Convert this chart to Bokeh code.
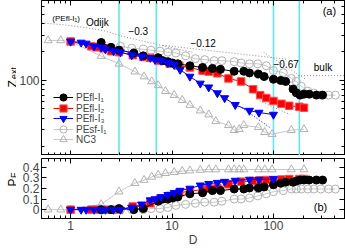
from math import pi
from bokeh.plotting import figure
from bokeh.layouts import column, row
from bokeh.core.properties import value
from bokeh.models import (Range1d, LogAxis, LinearAxis, FixedTicker, Span, Label,
                          Legend, LegendItem, CustomJSTickFormatter)
from bokeh.embed import file_html
from bokeh.resources import INLINE

FONT = "Liberation Sans"

# ---------------- data ----------------
# PEfl-I1 (black filled circles)
d_i1 = [2, 2.5, 3, 4.2, 5.2, 7.3, 8.1, 9.1, 10.1, 11.4, 15, 20, 25, 30, 41, 51, 58, 71, 81,
        100, 118, 132, 156, 168, 183, 200, 225, 265, 305]
z_i1 = [252, 224, 209, 195, 182, 174, 162, 158, 153, 150, 143, 137, 134, 131, 125, 125, 120, 117, 110,
        103, 100, 97.7, 81, 74, 70, 71.7, 71.7, 70, 70]
p_i1 = [0, 0, 0.01, 0, 0.01, 0.08, 0.10, 0.10, 0.11, 0.12, 0.15, 0.16, 0.18, 0.18, 0.195, 0.195, 0.205, 0.205, 0.215,
        0.235, 0.25, 0.26, 0.26, 0.27, 0.28, 0.28, 0.28, 0.28, 0.28]

# PEfl-I2 (red squares)
d_i2 = [1, 1.6, 1.8, 2.1, 2.5, 3, 4.1, 5.2, 6.1, 7.6, 9.5, 11.8, 15, 20, 23, 28, 36, 48, 63, 74, 85,
        100, 120, 143, 180, 200]
z_i2 = [258, 230, 224, 219, 204, 199, 185, 177, 173, 162, 150, 143, 137, 127, 124, 119, 105, 97.7, 80.8, 70, 65.2,
        60.7, 56.6, 54, 52.7, 51.5]
p_i2 = [0, 0, 0, 0, 0, 0, 0.03, 0.03, 0.06, 0.10, 0.13, 0.16, 0.175, 0.19, 0.20, 0.205, 0.24, 0.265, 0.27, 0.275, 0.28,
        0.28, 0.285, 0.29, 0.29, 0.29]

# PEfl-I3 (blue down triangles)
d_i3 = [1, 1.27, 1.42, 1.7, 2.0, 2.2, 2.65, 3.1, 4.0, 5.0, 6.1, 6.8, 7.8, 9.1, 10.5, 12, 15, 19, 23, 28, 33, 42,
        58, 72, 100]
z_i3 = [258, 252, 246, 230, 224, 214, 204, 199, 185, 180, 174, 165, 162, 153, 146, 130, 110, 93, 84.7, 73.5, 65.2,
        55.2, 48, 45.8, 43.6]
p_i3 = [0, 0, 0, 0, 0, 0, 0, 0, 0.02, 0.05, 0.09, 0.10, 0.12, 0.14, 0.16, 0.18, 0.20, 0.23, 0.245, 0.255, 0.265,
        0.275, 0.285, 0.285, 0.29]

# PEsf-I1 (grey open circles)
d_sf = [3.1, 4, 5.2, 6.2, 7.6, 9.1, 10.9, 13.6, 17, 21, 26, 31, 41, 48, 58, 70, 85, 100, 125, 150, 168, 188,
        218, 250, 293, 350, 408]
z_sf = [230, 219, 214, 209, 204, 199, 195, 182, 170, 166, 162, 162, 158, 153, 150, 150, 143, 127, 121, 105, 97.7,
        86.7, 77, 73.5, 70, 70, 70]
p_sf = [0, 0, 0, 0.01, 0.01, 0.02, 0.04, 0.05, 0.06, 0.07, 0.07, 0.08, 0.10, 0.10, 0.11, 0.13, 0.15, 0.17, 0.18,
        0.195, 0.195, 0.195, 0.195, 0.195, 0.195, 0.195, 0.195]

# NC3 (grey open triangles)
d_nc = [0.6, 0.8, 1.0, 2, 3, 4.3, 5.3, 6.3, 7.3, 8.6, 10.5, 12.6, 15, 19, 23, 27, 36, 41, 46, 51, 71, 82, 97,
        150, 200]
z_nc = [265, 265, 258, 181, 150, 124, 110, 97.7, 88.8, 77, 70, 62, 55, 48, 43.6, 37, 33.6, 29.8, 30.5, 33.6, 32,
        28.4, 27.1, 29.8, 30.5]
p_nc = [0, 0, 0, 0.05, 0.17, 0.25, 0.28, 0.31, 0.33, 0.345, 0.355, 0.365, 0.37, 0.375, 0.38, 0.38, 0.38, 0.38,
        0.38, 0.38, 0.38, 0.38, 0.38, 0.38, 0.38]

# guide lines (top panel)
odijk_D = [0.516, 0.864, 1.45, 2.12, 3.32, 6.5, 11.4, 16.0]
odijk_Z = [406, 387, 360, 336, 291, 246, 214, 199]
fit012_D = [8.13, 134]
fit012_Z = [235, 168]
fit067_D = [80, 209]
fit067_Z = [199, 102.4]
fitlow_D = [73, 146]
fitlow_Z = [60.7, 43.6]
fitblue_D = [48.8, 91.4]
fitblue_Z = [51.5, 32.0]
bulk_D = [175, 502]
bulk_Z = [112.6, 112.6]

crossover_D = [3, 7, 100, 180]

x_major = [1, 10, 100]
x_minor = [0.6, 0.7, 0.8, 0.9, 2, 3, 4, 5, 6, 7, 8, 9, 20, 30, 40, 50, 60, 70, 80, 90, 200, 300, 400, 500]
z_major = [100]
z_minor = [20, 30, 40, 50, 60, 70, 80, 90, 200, 300, 400, 500, 600]
p_major = [0, 0.1, 0.2, 0.3, 0.4]

# ---------------- layout ----------------
LW = 16          # strip holding the rotated axis titles
W = 345 - LW
LB = 22
RB = 1
H1 = 155
H2 = 94

BLACK = "#000000"
RED = "#ff0000"
BLUE = "#0000ff"
GREY = "#b2b2b2"
GREYL = "#c8c8c8"
CYAN = "#5ceaf0"
DOT = "#8c8c8c"

xr = Range1d(0.516, 502)
fmt = CustomJSTickFormatter(code="return tick.toString();")
nofmt = CustomJSTickFormatter(code="return '';")


def style_axis(ax, labels=True):
    ax.major_tick_in = 5
    ax.major_tick_out = 0
    ax.minor_tick_in = 3
    ax.minor_tick_out = 0
    ax.axis_line_color = BLACK
    ax.major_tick_line_color = BLACK
    ax.minor_tick_line_color = BLACK
    ax.major_label_text_font = FONT
    if labels:
        ax.major_label_text_font_size = "12px"
        ax.major_label_standoff = 2
        ax.formatter = fmt
    else:
        ax.major_label_text_font_size = "1px"
        ax.major_label_standoff = 0
        ax.formatter = nofmt


def base_fig(height, y_type, y_range, top):
    p = figure(width=W, height=height, x_axis_type="log", y_axis_type=y_type,
               x_range=xr, y_range=y_range, output_backend="svg", toolbar_location=None,
               min_border_left=LB, min_border_right=RB, min_border_top=top, min_border_bottom=0)
    p.grid.visible = False
    p.outline_line_color = BLACK
    p.background_fill_color = "white"
    return p


# ---------- top panel ----------
p1 = base_fig(H1, "log", Range1d(16.1, 700), 0)
p1.xaxis[0].ticker = FixedTicker(ticks=x_major, minor_ticks=x_minor)
style_axis(p1.xaxis[0], labels=False)
p1.yaxis[0].ticker = FixedTicker(ticks=z_major, minor_ticks=z_minor)
style_axis(p1.yaxis[0], labels=True)
ax = LogAxis(ticker=FixedTicker(ticks=x_major, minor_ticks=x_minor))
style_axis(ax, labels=False)
p1.add_layout(ax, "above")
ax = LogAxis(ticker=FixedTicker(ticks=z_major, minor_ticks=z_minor))
style_axis(ax, labels=False)
p1.add_layout(ax, "right")

for d in crossover_D:
    p1.add_layout(Span(location=d, dimension="height", line_color=CYAN, line_width=1.6, level="underlay"))

for dd, zz, col in [(odijk_D, odijk_Z, DOT), (fit012_D, fit012_Z, DOT), (fit067_D, fit067_Z, DOT),
                    (fitlow_D, fitlow_Z, DOT), (bulk_D, bulk_Z, DOT), (fitblue_D, fitblue_Z, BLUE)]:
    p1.line(dd, zz, line_color=col, line_width=1, line_dash="1 2")

series = [
    ("PEsf-I₁", d_sf, z_sf, p_sf, "circle", "white", GREY, GREYL, 8),
    ("NC3", d_nc, z_nc, p_nc, "triangle", "white", GREY, GREYL, 8),
    ("PEfl-I₂", d_i2, z_i2, p_i2, "square", RED, "#ff5050", RED, 7.5),
    ("PEfl-I₁", d_i1, z_i1, p_i1, "circle", BLACK, BLACK, BLACK, 8),
    ("PEfl-I₃", d_i3, z_i3, p_i3, "inverted_triangle", BLUE, BLUE, BLUE, 8),
]

rend = {}
for name, dd, zz, pp, mk, fc, lc, linec, sz in series:
    fa = 0 if fc == "white" else 1
    l = p1.line(dd, zz, line_color=linec, line_width=1)
    s = p1.scatter(dd, zz, marker=mk, size=sz, fill_color=fc, fill_alpha=fa, line_color=lc, line_width=1)
    rend[name] = [l, s]

leg_style = dict(orientation="vertical", background_fill_alpha=0, border_line_alpha=0, padding=0, margin=0,
                 spacing=3, glyph_width=20, glyph_height=18, label_height=18, label_standoff=3,
                 label_text_font=FONT, label_text_font_size="10px", label_text_baseline="middle")
# two interleaved legends give a compact row pitch with full-size markers
legA = Legend(items=[LegendItem(label=n, renderers=rend[n]) for n in ["PEfl-I₁", "PEfl-I₃", "NC3"]],
              location=(12, 7), **leg_style)
legB = Legend(items=[LegendItem(label=n, renderers=rend[n]) for n in ["PEfl-I₂", "PEsf-I₁"]],
              location=(12, 17), **leg_style)
p1.add_layout(legA)
p1.add_layout(legB)

txt = dict(text_font=FONT, text_baseline="middle", text_align="left", text_color=BLACK)
p1.add_layout(Label(x=0.66, y=457, text="(PEfl-I₁)", text_font_size="8px", **txt))
p1.add_layout(Label(x=1.415, y=410, text="Odijk", text_font_size="10px", **txt))
p1.add_layout(Label(x=3.71, y=332, text="−0.3", text_font_size="10px", **txt))
p1.add_layout(Label(x=15.2, y=249, text="−0.12", text_font_size="10px", **txt))
p1.add_layout(Label(x=100, y=149.6, text="−0.67", text_font_size="10px", **txt))
p1.add_layout(Label(x=250, y=137.8, text="bulk", text_font_size="10px", **txt))
p1.add_layout(Label(x=306, y=540, text="(a)", text_font_size="11px", **txt))

# ---------- bottom panel ----------
p2 = base_fig(H2, "linear", Range1d(-0.084, 0.484), 3)
p2.xaxis[0].ticker = FixedTicker(ticks=x_major, minor_ticks=x_minor)
style_axis(p2.xaxis[0], labels=True)
p2.xaxis[0].axis_label = "D"
p2.xaxis[0].axis_label_text_font = FONT
p2.xaxis[0].axis_label_text_font_size = "12px"
p2.xaxis[0].axis_label_text_font_style = "normal"
p2.xaxis[0].axis_label_standoff = 0
p2.yaxis[0].ticker = FixedTicker(ticks=p_major, minor_ticks=[])
style_axis(p2.yaxis[0], labels=True)
ax = LogAxis(ticker=FixedTicker(ticks=x_major, minor_ticks=x_minor))
style_axis(ax, labels=False)
p2.add_layout(ax, "above")
ax = LinearAxis(ticker=FixedTicker(ticks=p_major, minor_ticks=[]))
style_axis(ax, labels=False)
p2.add_layout(ax, "right")

for name, dd, zz, pp, mk, fc, lc, linec, sz in series:
    fa = 0 if fc == "white" else 1
    p2.line(dd, pp, line_color=linec, line_width=1)
    p2.scatter(dd, pp, marker=mk, size=sz, fill_color=fc, fill_alpha=fa, line_color=lc, line_width=1)

p2.add_layout(Label(x=250, y=0.022, text="(b)", text_font_size="11px", **txt))

# ---------- strip with the rotated axis titles (Z_ext, P_F) ----------
HT = H1 + H2
pt = figure(width=LW, height=HT, x_range=Range1d(0, LW), y_range=Range1d(0, HT),
            x_axis_type=None, y_axis_type=None, output_backend="svg", toolbar_location=None,
            min_border=0)
pt.grid.visible = False
pt.outline_line_color = None
title_main = ["Z", "P"]
title_sub = ["ext", "F"]
main_y = [HT - 87, HT - 186]
sub_y = [HT - 78.5, HT - 177.5]
pt.text(x=[12.0, 12.0], y=main_y, text=title_main, angle=pi / 2, text_font=value(FONT),
        text_font_size="12px", text_align="left", text_baseline="alphabetic", text_color=BLACK)
pt.text(x=[13.5, 13.5], y=sub_y, text=title_sub, angle=pi / 2, text_font=value(FONT),
        text_font_size="9px", text_align="left", text_baseline="alphabetic", text_color=BLACK)

layout = row(pt, column(p1, p2))
open("out.html", "w").write(file_html(layout, INLINE))
